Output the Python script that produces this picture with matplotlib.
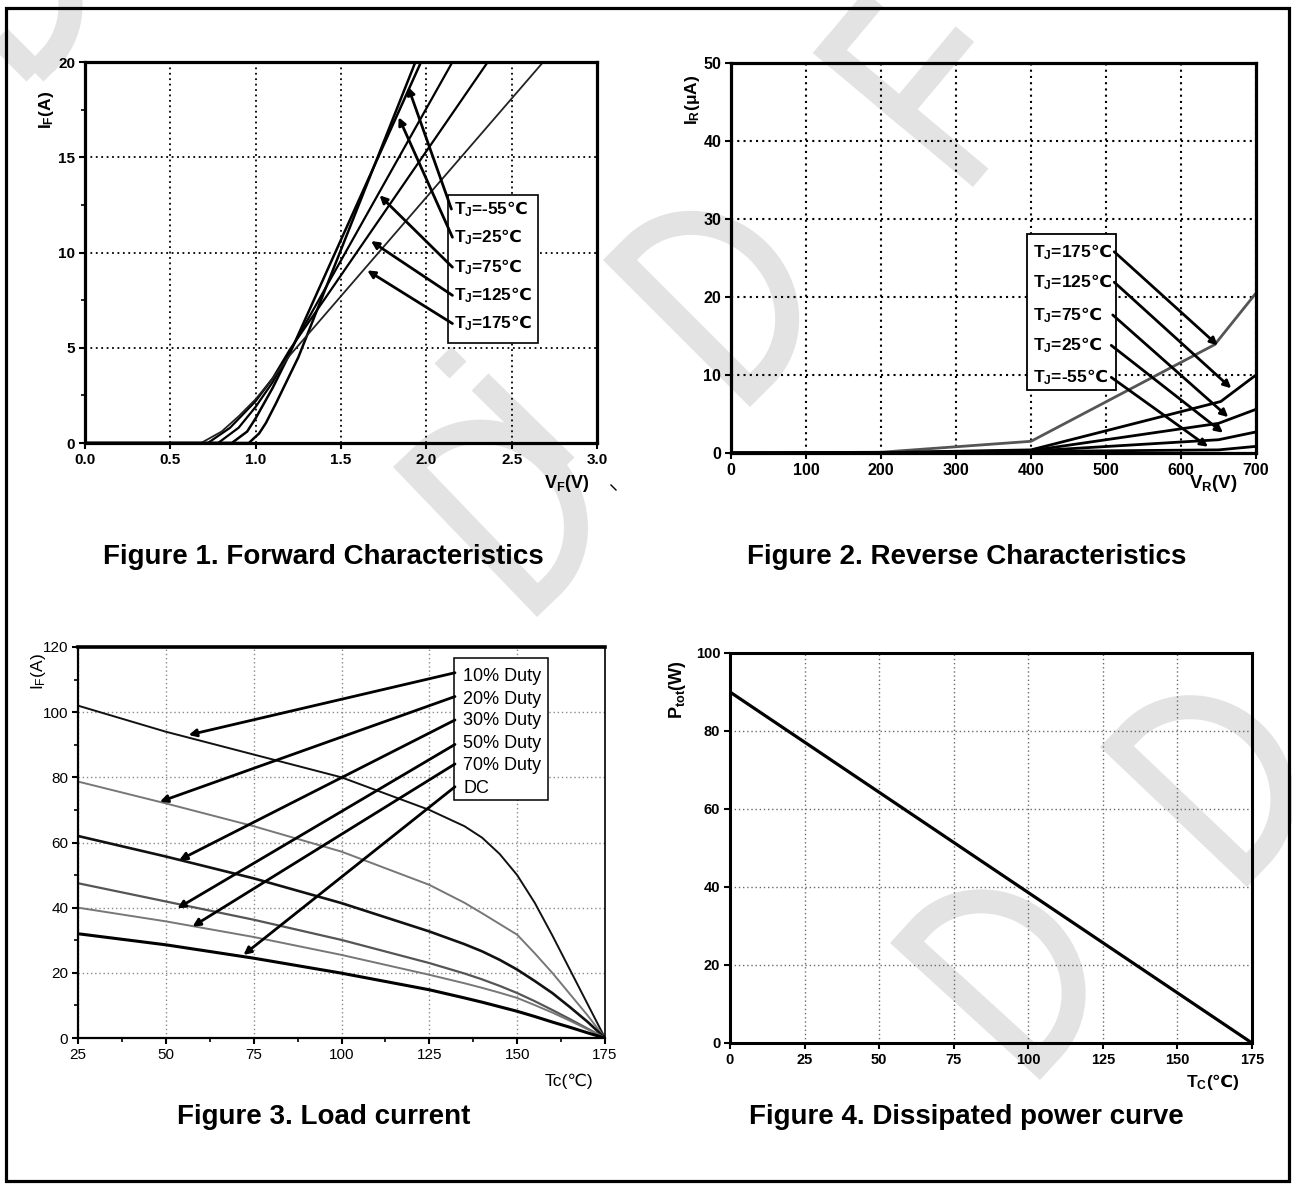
import numpy as np
import matplotlib
matplotlib.use("Agg")
import matplotlib.pyplot as plt
from matplotlib.patches import Rectangle, Polygon
from matplotlib.lines import Line2D

# ---- Figure 1: forward characteristics (VF in V, IF in A)
vf_m55 = [0, 0.96, 1.02, 1.06, 1.12, 1.25, 1.936]
if_m55 = [0, 0, 0.5, 1.05, 2.1, 4.5, 20]
vf_25 = [0, 0.86, 0.95, 1.0, 1.1, 1.2, 1.969]
if_25 = [0, 0, 0.6, 1.3, 2.9, 4.7, 20]
vf_75 = [0, 0.78, 0.9, 1.0, 1.1, 1.2, 2.153]
if_75 = [0, 0, 0.8, 1.9, 3.2, 4.8, 20]
vf_125 = [0, 0.72, 0.85, 1.0, 1.1, 1.2, 2.36]
if_125 = [0, 0, 0.8, 2.2, 3.4, 4.9, 20]
vf_175 = [0, 0.68, 0.8, 0.9, 1.0, 1.1, 1.2, 2.685]
if_175 = [0, 0, 0.6, 1.4, 2.3, 3.4, 4.6, 20]
fwd_labels = ["-55", "25", "75", "125", "175"]
fwd_tips = [(1.893, 18.7), (1.838, 17.1), (1.726, 13.0), (1.676, 10.6), (1.654, 9.06)]
fwd_starts = [(2.147, 12.28), (2.153, 10.8), (2.153, 9.23), (2.153, 7.75), (2.153, 6.27)]

# ---- Figure 2: reverse characteristics (VR in V, IR in uA)
vr_175 = [0, 200, 400, 645, 700]
ir_175 = [0, 0.1, 1.5, 13.9, 20.5]
vr_125 = [0, 200, 400, 653, 700]
ir_125 = [0, 0.05, 0.4, 6.6, 10.0]
vr_75 = [0, 200, 400, 650, 700]
ir_75 = [0, 0.03, 0.3, 3.8, 5.6]
vr_25 = [0, 200, 400, 650, 700]
ir_25 = [0, 0.02, 0.25, 1.7, 2.7]
vr_m55 = [0, 200, 400, 650, 700]
ir_m55 = [0, 0.01, 0.2, 0.4, 0.85]
rev_labels = ["175", "125", "75", "25", "-55"]
rev_starts = [(511, 25.8), (511, 21.9), (509, 17.7), (507, 13.8), (507, 9.7)]
rev_tips = [(649, 13.8), (667, 8.3), (663, 4.6), (656, 2.6), (636, 0.8)]

# ---- Figure 3: load current
tc = [25, 50, 75, 100, 125, 135, 140, 145, 150, 155, 160, 165, 170, 175]
duty10 = [102, 94, 87, 80, 70, 65, 61.5, 56.5, 50, 41.5, 31.5, 21, 10.5, 0]
duty20 = [78.7, 72, 65, 57.2, 47, 41.5, 38.3, 35, 31.7, 26, 20, 13.5, 7, 0]
duty30 = [62, 55.7, 49, 41.4, 32.7, 28.8, 26.6, 24, 21, 17.5, 13.8, 9.5, 5, 0]
duty50 = [47.5, 41.9, 36.3, 30.1, 23, 19.8, 18, 16, 13.8, 11.3, 8.6, 5.8, 2.9, 0]
duty70 = [40, 35.8, 31, 25.5, 19.4, 16.8, 15.4, 13.9, 12.3, 10.1, 7.8, 5.3, 2.7, 0]
dc = [32, 28.6, 24.5, 19.9, 14.8, 12.3, 11, 9.6, 8.2, 6.6, 4.9, 3.3, 1.6, 0]
load_labels = ["10% Duty", "20% Duty", "30% Duty", "50% Duty", "70% Duty", "DC"]
load_label_y = [111, 104, 97.3, 90.5, 83.5, 76.7]
load_starts = [(132.3, 112.1), (132.3, 104.8), (132.3, 97.6), (132.3, 90.1), (132.3, 84.1), (132.3, 77.1)]
load_tips = [(56.5, 93), (48.3, 72.5), (53.8, 54.6), (53.3, 39.8), (57.6, 34.2), (72.1, 25.5)]

# ---- Figure 4: dissipated power
tc4 = [0, 175]
ptot = [90, 0]

W, H = 1292, 1184
plt.rcParams["font.family"] = ["Liberation Sans", "DejaVu Sans"]
plt.rcParams["mathtext.fontset"] = "custom"
plt.rcParams["mathtext.rm"] = "Liberation Sans"
plt.rcParams["mathtext.bf"] = "Liberation Sans:bold"
plt.rcParams["mathtext.it"] = "Liberation Sans:italic"
plt.rcParams["mathtext.sf"] = "DejaVu Sans:bold"
CEL = "$\\mathsf{℃}$"  # degree-Celsius sign taken from DejaVu inside mixed labels

fig = plt.figure(figsize=(W / 100, H / 100), dpi=100)


def fx(x):
    return x / W


def fy(y):
    return 1 - y / H


def box(x0, y0, x1, y1):
    return [fx(x0), fy(y1), (x1 - x0) / W, (y1 - y0) / H]


# watermark (light grey letters, drawn behind everything)
WM = "#e3e3e3"
T = 24


def to_fig(pts):
    pts = np.asarray(pts)
    return np.column_stack([pts[:, 0] / W, 1 - pts[:, 1] / H])


def frame(p0, p1):
    p0 = np.array(p0, float)
    u = np.array(p1, float) - p0
    h = np.linalg.norm(u)
    u = u / h
    v = np.array([-u[1], u[0]])
    return p0, u, v, h


def letter_d(p0, p1, w):
    p0, u, v, h = frame(p0, p1)
    b = 0.25 * w
    rx = w - T / 2 - b
    ry = h / 2 - T / 2
    loc = [(T / 2, T / 2), (T / 2, h - T / 2), (b, h - T / 2)]
    for a in np.linspace(np.pi / 2, -np.pi / 2, 40):
        loc.append((b + rx * np.cos(a), h / 2 + ry * np.sin(a)))
    loc.append((b, T / 2))
    pts = [p0 + x * v + y * u for x, y in loc]
    fig.add_artist(Polygon(to_fig(pts), closed=True, fill=False, edgecolor=WM,
                           lw=T * 0.72, joinstyle="miter", transform=fig.transFigure, zorder=-5))


def stroke(pts):
    pts = to_fig(pts)
    fig.add_artist(Line2D(pts[:, 0], pts[:, 1], color=WM, lw=T * 0.72,
                          solid_capstyle="butt", transform=fig.transFigure, zorder=-5))


def letter_f(p0, p1):
    p0, u, v, h = frame(p0, p1)
    P = lambda x, y: p0 + x * v + y * u
    stroke([P(T / 2, 0), P(T / 2, h)])
    stroke([P(0, h - T / 2), P(140, h - T / 2)])
    stroke([P(0, 0.5 * h), P(112, 0.5 * h)])


letter_d((35, 90), (-112, -57), 125)
letter_d((750, 407), (603, 260), 128)
letter_d((537, 617), (393, 467), 128)
letter_d((1040, 1080), (890, 943), 128)
letter_d((1247, 887), (1100, 747), 128)
letter_f((973, 187), (813, 53))
stroke([(566, 466), (480, 382)])
stroke([(458, 370), (443, 355)])

# outer frame
fig.add_artist(Rectangle((fx(6), fy(1181)), (1289 - 6) / W, (1181 - 8) / H, fill=False,
                         lw=2.3, edgecolor="black", transform=fig.transFigure))
fig.add_artist(Line2D([fx(611), fx(616)], [fy(485), fy(490)], color="black", lw=1,
                      transform=fig.transFigure))


def style_axes(ax, spine_w, tick_size, bold, grid_color, grid_lw):
    ax.set_facecolor("none")
    for s in ax.spines.values():
        s.set_linewidth(spine_w)
    ax.tick_params(direction="out", length=4, width=1.5, labelsize=tick_size, pad=3,
                   top=False, right=False)
    ax.tick_params(which="minor", direction="out", length=3, width=1.2)
    for lab in ax.get_xticklabels() + ax.get_yticklabels():
        lab.set_fontweight("bold" if bold else "normal")
    ax.grid(True, which="major", linestyle=(0, (1, 2)), color=grid_color, lw=grid_lw)


arrow_kw = dict(arrowstyle="-|>", color="black", lw=2.0, mutation_scale=11,
                shrinkA=0, shrinkB=0)

# ---------------- Figure 1
ax1 = fig.add_axes(box(85, 62, 597, 443))
ax1.plot(vf_m55, if_m55, color="black", lw=1.8)
ax1.plot(vf_25, if_25, color="black", lw=1.8)
ax1.plot(vf_75, if_75, color="black", lw=1.6)
ax1.plot(vf_125, if_125, color="black", lw=1.6)
ax1.plot(vf_175, if_175, color="#222222", lw=1.3)
ax1.set_xlim(0, 3)
ax1.set_ylim(0, 20)
ax1.set_xticks(np.arange(0, 3.01, 0.5))
ax1.set_xticklabels([f"{v:.1f}" for v in np.arange(0, 3.01, 0.5)])
ax1.set_yticks([0, 5, 10, 15, 20])
ax1.set_yticks([2.5, 7.5, 12.5, 17.5], minor=True)
style_axes(ax1, 2.3, 11, True, "black", 1.3)
ax1.add_patch(Rectangle((2.127, 5.23), 0.525, 7.8, fill=True, facecolor="white",
                        edgecolor="black", lw=1.2, zorder=3))
for lab, s, t in zip(fwd_labels, fwd_starts, fwd_tips):
    ax1.text(2.16, s[1], "T$_\\mathbf{J}$=" + lab + CEL, fontsize=12.3, fontweight="bold",
             va="center", ha="left", zorder=4)
    ax1.annotate("", xy=t, xytext=s, arrowprops=arrow_kw, zorder=4)

fig.text(fx(47), fy(110), "I$_\\mathbf{F}$(A)", rotation=90, fontsize=12.5, fontweight="bold",
         ha="center", va="center")
fig.text(fx(567), fy(483), "V$_\\mathbf{F}$(V)", fontsize=13, fontweight="bold",
         ha="center", va="center")
fig.text(fx(323), fy(557), "Figure 1. Forward Characteristics", fontsize=20,
         fontweight="bold", ha="center", va="center")

# ---------------- Figure 2
ax2 = fig.add_axes(box(731, 63, 1256, 453))
ax2.plot(vr_175, ir_175, color="#555555", lw=2.0)
ax2.plot(vr_125, ir_125, color="black", lw=2.0)
ax2.plot(vr_75, ir_75, color="black", lw=2.0)
ax2.plot(vr_25, ir_25, color="black", lw=2.0)
ax2.plot(vr_m55, ir_m55, color="black", lw=2.0)
ax2.set_xlim(0, 700)
ax2.set_ylim(0, 50)
ax2.set_xticks(np.arange(0, 701, 100))
ax2.set_yticks(np.arange(0, 51, 10))
style_axes(ax2, 2.3, 11.5, True, "black", 1.5)
ax2.add_patch(Rectangle((395, 8.1), 118, 20.0, fill=True, facecolor="white",
                        edgecolor="black", lw=1.3, zorder=3))
for lab, s, t in zip(rev_labels, rev_starts, rev_tips):
    ax2.text(403, s[1], "T$_\\mathbf{J}$=" + lab + CEL, fontsize=12.5, fontweight="bold",
             va="center", ha="left", zorder=4)
    ax2.annotate("", xy=t, xytext=s, arrowprops=arrow_kw, zorder=4)

fig.text(fx(692), fy(100), "I$_\\mathbf{R}$(μA)", rotation=90, fontsize=12.5,
         fontweight="bold", ha="center", va="center")
fig.text(fx(1213), fy(483), "V$_\\mathbf{R}$(V)", fontsize=13.5, fontweight="bold",
         ha="center", va="center")
fig.text(fx(967), fy(557), "Figure 2. Reverse Characteristics", fontsize=20,
         fontweight="bold", ha="center", va="center")

# ---------------- Figure 3
ax3 = fig.add_axes(box(78, 647, 605, 1038))
ax3.plot(tc, duty10, color="#111111", lw=1.4)
ax3.plot(tc, duty20, color="#777777", lw=1.4)
ax3.plot(tc, duty30, color="#111111", lw=1.9)
ax3.plot(tc, duty50, color="#555555", lw=1.6)
ax3.plot(tc, duty70, color="#777777", lw=1.4)
ax3.plot(tc, dc, color="black", lw=2.2)
ax3.set_xlim(25, 175)
ax3.set_ylim(0, 120)
ax3.set_xticks(np.arange(25, 176, 25))
ax3.set_xticks(np.arange(37.5, 175, 12.5), minor=True)
ax3.set_yticks(np.arange(0, 121, 20))
ax3.set_yticks(np.arange(10, 120, 20), minor=True)
style_axes(ax3, 1.6, 11, False, "#8a8a8a", 1.0)
ax3.spines["top"].set_linewidth(2.6)
ax3.spines["right"].set_linewidth(1.2)
ax3.add_patch(Rectangle((132, 73), 26.8, 43.6, fill=True, facecolor="white",
                        edgecolor="black", lw=1.1, zorder=3))
for lab, ly in zip(load_labels, load_label_y):
    ax3.text(134.6, ly, lab, fontsize=13, va="center", ha="left", zorder=4)
for s, t in zip(load_starts, load_tips):
    ax3.annotate("", xy=t, xytext=s, arrowprops=arrow_kw, zorder=4)

fig.text(fx(38), fy(672), "I$_\\mathrm{F}$(A)", rotation=90, fontsize=12.5,
         ha="center", va="center")
fig.text(fx(569), fy(1081), "Tc(℃)", fontsize=12.5, ha="center", va="center")
fig.text(fx(324), fy(1117), "Figure 3. Load current", fontsize=20,
         fontweight="bold", ha="center", va="center")

# ---------------- Figure 4
ax4 = fig.add_axes(box(730, 653, 1252, 1043))
ax4.plot(tc4, ptot, color="black", lw=2.3)
ax4.set_xlim(0, 175)
ax4.set_ylim(0, 100)
ax4.set_xticks(np.arange(0, 176, 25))
ax4.set_yticks(np.arange(0, 101, 20))
style_axes(ax4, 2.2, 10.5, True, "#6a6a6a", 1.0)

fig.text(fx(677), fy(690), "P$_\\mathbf{tot}$(W)", rotation=90, fontsize=13,
         fontweight="bold", ha="center", va="center")
fig.text(fx(1213), fy(1082), "T$_\\mathbf{C}$(" + CEL + ")", fontsize=12.5, fontweight="bold",
         ha="center", va="center")
fig.text(fx(966), fy(1117), "Figure 4. Dissipated power curve", fontsize=20,
         fontweight="bold", ha="center", va="center")

fig.savefig("out.png", dpi=100, facecolor="white")
